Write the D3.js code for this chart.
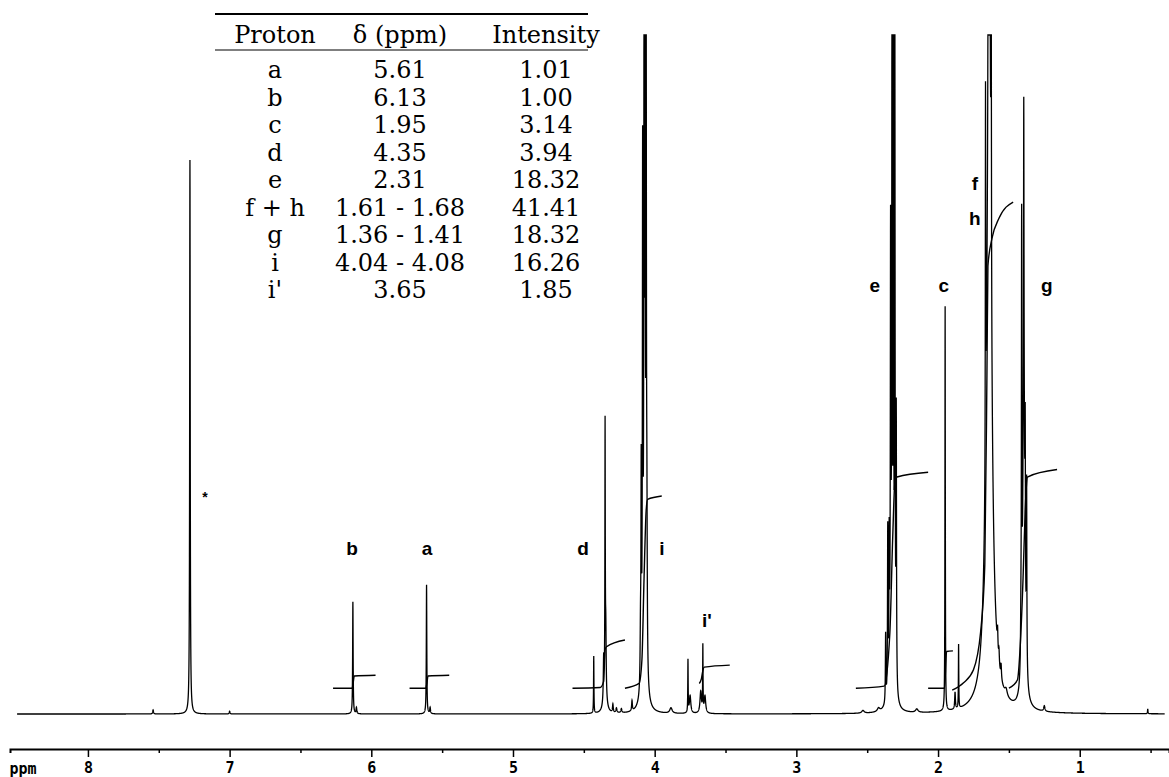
<!DOCTYPE html>
<html>
<head>
<meta charset="utf-8">
<script src="https://cdn.jsdelivr.net/npm/d3@7"></script>
<style>
  body { margin: 0; background: #fff; }
  svg { display: block; }
</style>
</head>
<body>
<div id="chart"></div>
<script>
// page size
const width = 1169;
const height = 777;

// NMR lines: [ppm, height (% full scale), half width (ppm)]
const solventPeaks = [[7.54, 0.6, 0.003], [7.28, 81.6, 0.0022], [7.00, 0.4, 0.003], [0.52, 0.7, 0.002]];
const vinylPeaks = [[6.13, 16.5, 0.002], [6.105, 0.9, 0.003], [5.61, 19.0, 0.002], [5.585, 0.9, 0.003]];
const oxyPeaks = [
  [4.43, 8.4, 0.0015], [4.36, 6, 0.003], [4.35, 38, 0.0015], [4.345, 9, 0.003], [4.35, 3, 0.012],
  [4.295, 1.2, 0.003], [4.27, 0.7, 0.004], [4.235, 0.6, 0.004], [4.16, 1.5, 0.003],
  [4.10, 8, 0.003], [4.095, 30, 0.002], [4.085, 73.8, 0.002], [4.075, 97, 0.002], [4.068, 100, 0.002],
  [4.06, 91.6, 0.002], [4.055, 20, 0.003], [4.075, 8, 0.015],
  [3.885, 0.8, 0.01], [3.765, 7.7, 0.0015], [3.75, 2.6, 0.006],
  [3.675, 3.2, 0.006], [3.66, 9.6, 0.0015], [3.645, 2.5, 0.006]
];
const alkylPeaks = [
  [2.53, 0.4, 0.01], [2.42, 0.5, 0.01],
  [2.37, 10, 0.002], [2.355, 24, 0.002], [2.345, 20, 0.002], [2.335, 60, 0.002], [2.325, 99, 0.002],
  [2.315, 99, 0.002], [2.305, 99, 0.002], [2.295, 40, 0.002], [2.33, 10, 0.012],
  [2.15, 0.5, 0.01], [1.95, 59.6, 0.0015], [1.88, 2.5, 0.003], [1.855, 9.4, 0.0015],
  [1.665, 55, 0.0015], [1.645, 60, 0.002], [1.635, 70, 0.002], [1.625, 50, 0.002], [1.64, 95, 0.02],
  [1.58, 3, 0.003], [1.57, 2, 0.003], [1.555, 2, 0.003], [1.52, 1, 0.01],
  [1.415, 6, 0.003], [1.41, 62, 0.0018], [1.395, 43, 0.0018], [1.385, 25, 0.002], [1.375, 27, 0.002],
  [1.395, 45, 0.008], [1.25, 0.8, 0.005]
];

// integral traces: [ppm, level]
const integrals = [
  [[6.27, 3.8], [6.135, 3.8], [6.128, 4.6], [6.12, 5.6], [5.97, 5.7]],
  [[5.73, 3.8], [5.615, 3.8], [5.607, 4.6], [5.60, 5.6], [5.45, 5.7]],
  [[4.58, 3.8], [4.385, 3.9], [4.36, 4.8], [4.35, 9.5], [4.34, 9.9], [4.21, 10.9]],
  [[4.21, 3.8], [4.11, 4.5], [4.09, 8], [4.075, 20], [4.06, 30], [4.05, 31.6], [3.95, 32.1]],
  [[3.685, 4.5], [3.67, 5.2], [3.66, 6.4], [3.65, 6.9], [3.47, 7.2]],
  [[2.58, 3.8], [2.38, 4.1], [2.34, 12], [2.32, 26], [2.305, 34], [2.29, 34.9], [2.07, 35.6]],
  [[2.07, 3.8], [1.955, 3.8], [1.948, 6], [1.94, 9.2], [1.895, 9.3]],
  [[1.90, 3.5], [1.82, 4.6], [1.75, 6.5], [1.70, 12], [1.67, 22], [1.655, 50], [1.648, 66],
   [1.62, 70], [1.57, 73], [1.47, 75.4]],
  [[1.50, 3.8], [1.44, 5], [1.42, 10], [1.40, 20], [1.385, 30], [1.375, 34], [1.37, 34.9], [1.16, 36]]
];

// peak labels: [text, ppm, level]
const peakLabels = [
  ["*", 7.174, 32.0], ["b", 6.136, 24.4], ["a", 5.607, 24.4], ["d", 4.506, 24.4], ["i", 3.949, 24.4],
  ["i'", 3.631, 13.8], ["e", 2.446, 63.2], ["c", 1.959, 63.2], ["g", 1.232, 63.2],
  ["f", 1.74, 78.2], ["h", 1.74, 73.0]
];

// assignment table
const tableHeader = ["Proton", "δ (ppm)", "Intensity"];
const protons = ["a", "b", "c", "d", "e", "f + h", "g", "i", "i'"];
const shifts = ["5.61", "6.13", "1.95", "4.35", "2.31", "1.61 - 1.68", "1.36 - 1.41", "4.04 - 4.08", "3.65"];
const intensities = ["1.01", "1.00", "3.14", "3.94", "18.32", "41.41", "18.32", "16.26", "1.85"];

// axis ticks
const majorTicks = [8, 7, 6, 5, 4, 3, 2, 1];
const minorTicks = [7.5, 6.5, 5.5, 4.5, 3.5, 2.5, 1.5, 0.5];

const svg = d3.select("#chart")
    .append("svg")
    .attr("width", width)
    .attr("height", height);

const x = d3.scaleLinear().domain([8.55, 0.37]).range([10, 1169]);
const y = d3.scaleLinear().domain([0, 100]).range([714, 35]);

// build the trace from the line list (lorentzian line shape)
const allPeaks = solventPeaks.concat(vinylPeaks, oxyPeaks, alkylPeaks);
let grid = d3.range(8.50, 0.40, -0.0005).concat(allPeaks.map(p => p[0]));
grid = Array.from(new Set(grid)).sort((p, q) => q - p);
const trace = grid.map(ppm => {
    let s = 0;
    allPeaks.forEach(([c, h, w]) => { s += h * w * w / (w * w + (ppm - c) * (ppm - c)); });
    return [ppm, Math.min(s, 100)];
});

const line = d3.line()
    .x(d => x(d[0]))
    .y(d => y(d[1]));

svg.append("path")
    .datum(trace)
    .attr("fill", "none")
    .attr("stroke", "#000")
    .attr("stroke-width", 1.3)
    .attr("d", line);

// integral curves
const intLine = d3.line()
    .x(d => x(d[0]))
    .y(d => y(d[1]))
    .curve(d3.curveMonotoneX);

svg.selectAll("path.integral")
    .data(integrals)
    .enter()
    .append("path")
    .attr("class", "integral")
    .attr("fill", "none")
    .attr("stroke", "#000")
    .attr("stroke-width", 1.4)
    .attr("d", intLine);

// peak letters
svg.selectAll("text.peak")
    .data(peakLabels)
    .enter()
    .append("text")
    .attr("class", "peak")
    .attr("x", d => x(d[1]))
    .attr("y", d => y(d[2]))
    .attr("dy", "0.35em")
    .attr("text-anchor", "middle")
    .attr("font-family", "Liberation Sans, Arial, sans-serif")
    .attr("font-weight", "bold")
    .attr("font-size", d => d[0] == "*" ? 14 : 19)
    .text(d => d[0]);

// x axis
const axisG = svg.append("g").attr("transform", "translate(0,749)");
axisG.call(d3.axisBottom(x).tickValues(majorTicks).tickSize(8).tickSizeOuter(4).tickPadding(5).tickFormat(d3.format("d")));
axisG.call(g => g.append("g").call(d3.axisBottom(x).tickValues(minorTicks).tickSize(4).tickFormat("")).select(".domain").remove());
axisG.select(".domain").attr("stroke-width", 2);
axisG.selectAll("line").attr("stroke-width", 1.5);
axisG.selectAll("text")
    .attr("font-family", "DejaVu Sans Mono, monospace")
    .attr("font-weight", "bold")
    .attr("font-size", 15)
    .attr("fill", "#000");
axisG.append("text")
    .attr("x", 23)
    .attr("y", 25)
    .attr("text-anchor", "middle")
    .attr("font-family", "DejaVu Sans Mono, monospace")
    .attr("font-weight", "bold")
    .attr("font-size", 15)
    .attr("fill", "#000")
    .text("ppm");

// table
const colX = [275, 400, 546];
const table = svg.append("g")
    .attr("font-family", "DejaVu Serif, serif")
    .attr("font-size", 24)
    .attr("text-anchor", "middle");

table.append("line").attr("x1", 215).attr("x2", 588).attr("y1", 14).attr("y2", 14)
    .attr("stroke", "#000").attr("stroke-width", 2);
table.append("line").attr("x1", 215).attr("x2", 588).attr("y1", 50).attr("y2", 50)
    .attr("stroke", "#000").attr("stroke-width", 1.2);

table.selectAll("text.head")
    .data(tableHeader)
    .enter()
    .append("text")
    .attr("x", (d, i) => colX[i])
    .attr("y", 35)
    .attr("dy", "0.35em")
    .text(d => d);

const rowY = d3.scaleLinear().domain([0, 1]).range([70, 97.5]);
protons.forEach((p, i) => {
    [p, shifts[i], intensities[i]].forEach((t, j) => {
        table.append("text")
            .attr("x", colX[j])
            .attr("y", rowY(i))
            .attr("dy", "0.35em")
            .text(t);
    });
});
</script>
</body>
</html>
